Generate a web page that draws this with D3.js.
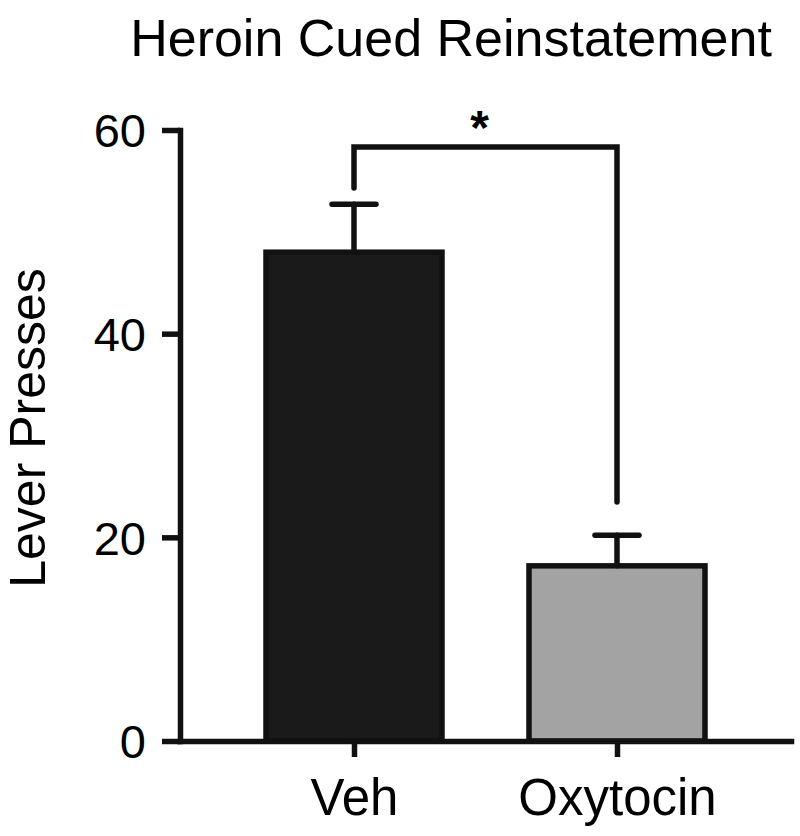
<!DOCTYPE html>
<html>
<head>
<meta charset="utf-8">
<script src="https://cdn.jsdelivr.net/npm/d3@7"></script>
<style>
  body { margin: 0; background: #fff; }
  text { font-family: "Liberation Sans", Arial, sans-serif; fill: #000; }
</style>
</head>
<body>
<svg id="chart" width="800" height="836"></svg>
<script>
const categories = ["Veh", "Oxytocin"];
const means = [48.0, 17.2];
const sems = [4.7, 3.0];
const yTicks = [0, 20, 40, 60];
const barColors = ["#1a1a1a", "#a3a3a3"];
const title = "Heroin Cued Reinstatement";
const yLabel = "Lever Presses";
const sigLabel = "*";

const svg = d3.select("#chart");
const y = d3.scaleLinear().domain([0, 60]).range([741, 130]);
const x = d3.scalePoint().domain(categories).range([180, 791]).padding(0.6616);
const barW = 176;

// bars
svg.selectAll("rect.bar").data(categories).enter().append("rect")
  .attr("x", d => x(d) - barW / 2)
  .attr("y", (d, i) => y(means[i]))
  .attr("width", barW)
  .attr("height", (d, i) => y(0) - y(means[i]))
  .attr("fill", (d, i) => barColors[i])
  .attr("stroke", "#111")
  .attr("stroke-width", 5.5);

// error bars
const eb = svg.append("g").attr("stroke", "#111").attr("stroke-width", 5.5).attr("stroke-linecap", "round");
categories.forEach((c, i) => {
  eb.append("line").attr("x1", x(c)).attr("x2", x(c)).attr("y1", y(means[i])).attr("y2", y(means[i] + sems[i]));
  eb.append("line").attr("x1", x(c) - 22).attr("x2", x(c) + 22).attr("y1", y(means[i] + sems[i])).attr("y2", y(means[i] + sems[i]));
});

// axes
const yAxis = svg.append("g").attr("transform", "translate(180,0)")
  .call(d3.axisLeft(y).tickValues(yTicks).tickSize(18).tickSizeOuter(0).tickPadding(16));
const xAxis = svg.append("g").attr("transform", "translate(0,741)")
  .call(d3.axisBottom(x).tickSize(16).tickSizeOuter(0).tickPadding(20));
[yAxis, xAxis].forEach(g => {
  g.selectAll("path, line").attr("stroke", "#111").attr("stroke-width", 5.5);
  g.select(".domain").attr("stroke-linecap", "square");
});
yAxis.selectAll("text").attr("font-size", 47).attr("font-family", "Liberation Sans, Arial, sans-serif").attr("dy", "0.36em");
xAxis.selectAll("text").attr("font-size", 51).attr("font-family", "Liberation Sans, Arial, sans-serif").attr("dy", "0.74em");

// significance bracket
const bY = 147;
svg.append("path")
  .attr("d", d3.line()([[x("Veh"), 188], [x("Veh"), bY], [x("Oxytocin"), bY], [x("Oxytocin"), 502]]))
  .attr("fill", "none").attr("stroke", "#111").attr("stroke-width", 5.5)
  .attr("stroke-linecap", "round").attr("stroke-linejoin", "miter");
svg.append("text").attr("x", (x("Veh") + x("Oxytocin")) / 2 - 6).attr("y", 144)
  .attr("text-anchor", "middle").attr("font-size", 48).attr("font-weight", "bold").text(sigLabel);

// title
svg.append("text").attr("x", 451).attr("y", 56).attr("text-anchor", "middle")
  .attr("font-size", 52).text(title);

// y label
svg.append("text").attr("transform", "translate(45,428) rotate(-90)")
  .attr("text-anchor", "middle").attr("font-size", 50).text(yLabel);
</script>
</body>
</html>
